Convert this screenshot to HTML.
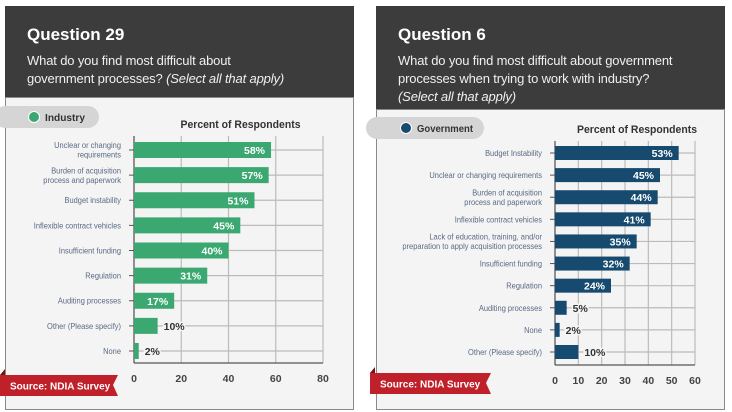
<!DOCTYPE html>
<html><head><meta charset="utf-8">
<style>
body{margin:0;width:732px;height:412px;background:#fff;font-family:"Liberation Sans",sans-serif;overflow:hidden;position:relative}
.hdr{position:absolute;background:#3c3c3c;color:#fff}
.hdr h1{margin:0;font:bold 17px "Liberation Sans",sans-serif;position:absolute;top:19px;left:22px}
.hdr p{margin:0;position:absolute;left:22px;top:46px;font-size:13px;line-height:18px;color:#f0f0f0;letter-spacing:-0.15px}
.body{position:absolute;background:#f3f4f3;border:1px solid #8a8a8a;box-sizing:border-box}
svg{position:absolute;left:0;top:0}
</style></head><body>
<div class="hdr" style="left:5px;top:6px;width:349px;height:91px">
<h1>Question 29</h1>
<p>What do you find most difficult about<br>government processes? <i>(Select all that apply)</i></p></div>
<div class="body" style="left:5px;top:97px;width:349px;height:313px"></div>
<div class="hdr" style="left:376px;top:6px;width:349px;height:103px">
<h1>Question 6</h1>
<p>What do you find most difficult about government<br>processes when trying to work with industry?<br><i>(Select all that apply)</i></p></div>
<div class="body" style="left:376px;top:109px;width:349px;height:301px"></div>
<svg id="s" width="732" height="412"></svg>
<script>
const leftCats=[["Unclear or changing","requirements"],["Burden of acquisition","process and paperwork"],["Budget instability"],["Inflexible contract vehicles"],["Insufficient funding"],["Regulation"],["Auditing processes"],["Other (Please specify)"],["None"]];
const leftVals=[58,57,51,45,40,31,17,10,2];
const leftTicks=[0,20,40,60,80];
const rightCats=[["Budget Instability"],["Unclear or changing requirements"],["Burden of acquisition","process and paperwork"],["Inflexible contract vehicles"],["Lack of education, training, and/or","preparation to apply acquisition processes"],["Insufficient funding"],["Regulation"],["Auditing processes"],["None"],["Other (Please specify)"]];
const rightVals=[53,45,44,41,35,32,24,5,2,10];
const rightTicks=[0,10,20,30,40,50,60];
const NS="http://www.w3.org/2000/svg";
const svg=document.getElementById('s');
function mk(t,a,txt){const e=document.createElementNS(NS,t);for(const k in a)e.setAttribute(k,a[k]);if(txt!==undefined)e.textContent=txt;svg.appendChild(e);return e;}
function chart(o){
  const sx=v=>o.x0+(v-o.ticks[0])/(o.ticks[o.ticks.length-1]-o.ticks[0])*(o.x1-o.x0);
  const n=o.cats.length, step=(o.yLast-o.yFirst)/(n-1);
  const sy=i=>o.yFirst+i*step;
  let p=mk('rect',{x:o.px-20,y:o.py,width:o.pw+20,height:22,rx:11,fill:'#d4d5d4'});
  
  mk('circle',{cx:o.px+20,cy:o.py+11,r:5.5,fill:o.color,stroke:'#fff','stroke-width':1});
  mk('text',{x:o.px+31,y:o.py+15,'font-size':10.5,'font-weight':'bold',fill:'#333',textLength:o.lw,lengthAdjust:'spacingAndGlyphs'},o.legend);
  let t=mk('text',{x:(o.x0+o.x1)/2+12,y:o.titleY,'font-size':11,'font-weight':'bold',fill:'#333','text-anchor':'middle',textLength:o.tw,lengthAdjust:'spacingAndGlyphs'},'Percent of Respondents');
  
  o.ticks.forEach(v=>{const x=sx(v);mk('line',{x1:x,x2:x,y1:o.yTop,y2:o.yBot,stroke:'#bbb','stroke-width':1.2});
    let tl=mk('text',{x:x,y:o.yBot+19,'font-size':10.5,'font-weight':'bold',fill:'#444','text-anchor':'middle'},v);
    });
  o.cats.forEach((c,i)=>{const y=sy(i);mk('line',{x1:o.x0,x2:o.x1,y1:y,y2:y,stroke:'#bbb','stroke-width':1.2});});
  mk('line',{x1:o.x0,x2:o.x0,y1:o.yTop,y2:o.yBot,stroke:'#555','stroke-width':1.2});
  mk('line',{x1:o.x0,x2:o.x1,y1:o.yBot,y2:o.yBot,stroke:'#555','stroke-width':1.2});
  const lx=o.x0-13;
  o.cats.forEach((c,i)=>{const y=sy(i),v=o.vals[i];
    mk('line',{x1:o.x0-5,x2:o.x0,y1:y,y2:y,stroke:'#555'});
    c.forEach((ln,j)=>{let l=mk('text',{x:lx,y:y+3+(j-(c.length-1)/2)*9.5,'font-size':8.5,fill:'#5b6a85','text-anchor':'end',transform:`translate(${lx},0) scale(0.88,1) translate(${-lx},0)`},ln);
      });
    let b=mk('rect',{x:o.x0,y:y-o.bh/2,width:sx(v)-o.x0,height:o.bh,fill:o.color});
    
    const inside=sx(v)-o.x0>30;
    let vl=mk('text',{x:inside?sx(v)-6:sx(v)+6,y:y+4,'font-size':10.5,'font-weight':'bold',fill:inside?'#fff':'#333','text-anchor':inside?'end':'start'},v+'%');
    if(!inside){vl.setAttribute('paint-order','stroke');vl.setAttribute('stroke','#f3f4f3');vl.setAttribute('stroke-width','3');}
    
  });
  let sb=mk('polygon',{points:`${o.sbx},${o.sby} ${o.sbx+o.sbw},${o.sby} ${o.sbx+o.sbw-5},${o.sby+10} ${o.sbx+o.sbw},${o.sby+21} ${o.sbx},${o.sby+21}`,fill:'#c0202a'});
  
  mk('polygon',{points:`${o.sbx},${o.sby} ${o.sbx+5},${o.sby-6} ${o.sbx+5},${o.sby}`,fill:'#7a1015'});
  mk('text',{x:o.sbx+10,y:o.sby+14.5,'font-size':10,'font-weight':'bold',fill:'#fff'},'Source: NDIA Survey');
}
chart({id:'industry',cats:leftCats,vals:leftVals,ticks:leftTicks,x0:134,x1:323,yTop:136,yBot:363,yFirst:150,yLast:351,bh:16,color:'#3aa870',px:14,py:106,pw:85,lw:40,tw:120,legend:'Industry',titleY:128,sbx:0,sby:375,sbw:118});
chart({id:'government',cats:rightCats,vals:rightVals,ticks:rightTicks,x0:555,x1:695,yTop:141,yBot:365,yFirst:153,yLast:352,bh:14,color:'#164a6e',px:386,py:117,pw:98,lw:56,tw:120,legend:'Government',titleY:133,sbx:370,sby:373,sbw:121});
</script>
</body></html>
